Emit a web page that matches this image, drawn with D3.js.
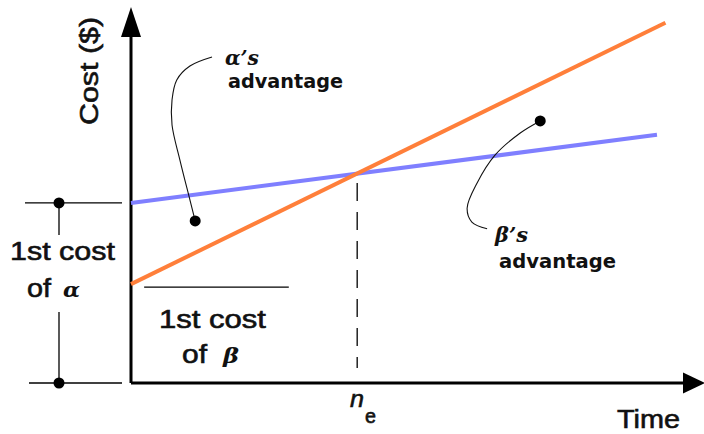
<!DOCTYPE html>
<html>
<head>
<meta charset="utf-8">
<script src="https://cdn.jsdelivr.net/npm/d3@7"></script>
<style>
  body { margin: 0; background: #fff; }
  svg { display: block; }
  text { font-family: "Liberation Sans", Arial, sans-serif; fill: #111; }
  text.heavy { stroke: #111; stroke-width: 0.6px; }
</style>
</head>
<body>
<div id="chart"></div>
<script>
// break-even chart: cost of alpha vs beta over time

////////////////////////////////////////////////////////////////////////
// data (time 0..100, cost 0..100)

const alphaTimes = [0, 100];
const alphaCosts = [47.9, 66.0];
const betaTimes = [0, 101.6];
const betaCosts = [26.3, 95.8];

const breakEven = 43;        // n_e
const firstCostAlpha = 47.9;
const firstCostBeta = 25.5;

// hand drawn pointer curves, [time, cost]
const alphaPointer = [[15.4, 86.7], [11.2, 84.3], [8.7, 80.6], [7.8, 75.3],
                      [7.8, 68.6], [9.3, 59.3], [11.2, 48.7], [12.2, 43.1]];
const betaPointer = [[77.8, 69.7], [74.0, 66.5], [69.2, 60.6], [65.8, 53.2],
                     [63.9, 46.5], [64.8, 42.8], [67.7, 41.0]];

////////////////////////////////////////////////////////////////////////

const width = 704;
const height = 434;

const svg = d3.select("#chart").append("svg")
  .attr("width", width)
  .attr("height", height);

const x = d3.scaleLinear().domain([0, 100]).range([131, 657]);
const y = d3.scaleLinear().domain([0, 100]).range([383, 7]);

const line = d3.line().x(d => x(d[0])).y(d => y(d[1]));
const curve = d3.line().x(d => x(d[0])).y(d => y(d[1])).curve(d3.curveCatmullRom);

// axes
svg.append("line")
  .attr("x1", x(0)).attr("y1", y(0))
  .attr("x2", 684).attr("y2", y(0))
  .attr("stroke", "#000").attr("stroke-width", 3);
svg.append("path")
  .attr("d", `M705,${y(0)} L683,${y(0) - 10.5} L683,${y(0) + 10.5} Z`)
  .attr("fill", "#000");

svg.append("line")
  .attr("x1", x(0)).attr("y1", y(0))
  .attr("x2", x(0)).attr("y2", 36)
  .attr("stroke", "#000").attr("stroke-width", 3);
svg.append("path")
  .attr("d", `M${x(0)},${y(100)} L${x(0) - 10},37 L${x(0) + 10},37 Z`)
  .attr("fill", "#000");

// break even dashed line
svg.append("line")
  .attr("x1", x(breakEven)).attr("y1", 183)
  .attr("x2", x(breakEven)).attr("y2", 368)
  .attr("stroke", "#000").attr("stroke-width", 1.3)
  .attr("stroke-dasharray", "18,11");

// cost lines
svg.append("path")
  .datum(d3.zip(alphaTimes, alphaCosts))
  .attr("d", line)
  .attr("fill", "none")
  .attr("stroke", "#7f7fff")
  .attr("stroke-width", 4);

svg.append("path")
  .datum(d3.zip(betaTimes, betaCosts))
  .attr("d", line)
  .attr("fill", "none")
  .attr("stroke", "#ff7f3a")
  .attr("stroke-width", 4);

// first cost of alpha bracket
const bx = 59;
[firstCostAlpha, 0].forEach(c => {
  svg.append("line")
    .attr("x1", c === 0 ? 29 : 25).attr("x2", 122)
    .attr("y1", y(c)).attr("y2", y(c))
    .attr("stroke", "#000").attr("stroke-width", 1.3);
  svg.append("circle")
    .attr("cx", bx).attr("cy", y(c)).attr("r", 5.5)
    .attr("fill", "#000");
});
svg.append("line")
  .attr("x1", bx).attr("x2", bx)
  .attr("y1", y(firstCostAlpha)).attr("y2", 235)
  .attr("stroke", "#000").attr("stroke-width", 1.3);
svg.append("line")
  .attr("x1", bx).attr("x2", bx)
  .attr("y1", 312).attr("y2", y(0))
  .attr("stroke", "#000").attr("stroke-width", 1.3);

// first cost of beta underline
svg.append("line")
  .attr("x1", x(2.5)).attr("x2", x(30))
  .attr("y1", y(firstCostBeta)).attr("y2", y(firstCostBeta))
  .attr("stroke", "#000").attr("stroke-width", 1.3);

// pointers
[alphaPointer, betaPointer].forEach((pts, i) => {
  svg.append("path")
    .datum(pts)
    .attr("d", curve)
    .attr("fill", "none")
    .attr("stroke", "#111")
    .attr("stroke-width", 1.1);
  const end = i === 0 ? pts[pts.length - 1] : pts[0];
  svg.append("circle")
    .attr("cx", x(end[0])).attr("cy", y(end[1])).attr("r", 5.5)
    .attr("fill", "#000");
});

////////////////////////////////////////////////////////////////////////
// labels

function label(tx, ty, str, size, len, opts = {}) {
  const t = svg.append("text")
    .attr("x", tx).attr("y", ty)
    .attr("font-size", size)
    .text(str);
  if (len) t.attr("textLength", len).attr("lengthAdjust", "spacingAndGlyphs");
  if (opts.family) t.style("font-family", opts.family);
  if (opts.weight) t.attr("font-weight", opts.weight);
  if (opts.italic) t.attr("font-style", "italic");
  if (opts.heavy) t.attr("class", "heavy");
  return t;
}

// axis titles
label(0, 0, "Cost  ($)", 26, 108, { heavy: true })
  .attr("transform", "translate(98,125) rotate(-90)");
label(617, 428, "Time", 26, 63, { heavy: true });

// n_e
label(350, 407, "n", 24, 14, { italic: true, heavy: true });
label(365, 423, "e", 20, 11, { heavy: true });

// first costs
label(10, 260, "1st cost", 26, 105, { heavy: true });
label(27, 297, "of", 26, 24, { heavy: true });
label(63, 297, "α", 21, 17, { family: "DejaVu Serif", weight: "bold", italic: true });

label(159, 328, "1st cost", 26, 107, { heavy: true });
label(182, 363, "of", 26, 25, { heavy: true });
label(223, 363, "β", 21, 16, { family: "DejaVu Serif", weight: "bold", italic: true });

// advantages
label(225, 65, "α’s", 21, 34, { family: "DejaVu Serif", weight: "bold", italic: true });
label(228, 88, "advantage", 19, 115, { family: "DejaVu Sans", weight: "bold" });

label(495, 242, "β’s", 21, 33, { family: "DejaVu Serif", weight: "bold", italic: true });
label(499, 268, "advantage", 19, 117, { family: "DejaVu Sans", weight: "bold" });
</script>
</body>
</html>
